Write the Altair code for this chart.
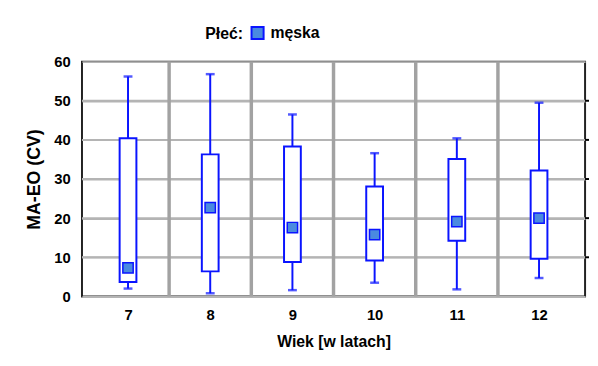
import altair as alt
import pandas as pd

ages = [7, 8, 9, 10, 11, 12]
whisker_low = [2.0, 0.8, 1.6, 3.5, 1.8, 4.7]
box_low = [3.7, 6.4, 8.8, 9.2, 14.2, 9.6]
median = [7.3, 22.7, 17.6, 15.8, 19.1, 20.0]
box_high = [40.4, 36.3, 38.3, 28.1, 35.1, 32.2]
whisker_high = [56.2, 56.8, 46.5, 36.6, 40.4, 49.5]
sex = ["męska"] * 6
y_ticks = [0, 10, 20, 30, 40, 50, 60]

df = pd.DataFrame({
    "age": ages, "wlo": whisker_low, "blo": box_low, "med": median,
    "bhi": box_high, "whi": whisker_high, "sex": sex,
})
sep = pd.DataFrame({"b": [a + 0.5 for a in ages[:-1]]})
gl = pd.DataFrame({"g": y_ticks[1:-1]})

FONT = "Liberation Sans"
BLUE = "#0a14ff"
W, H = 510, 238

xscale = alt.Scale(domain=[6.5, 12.5], nice=False, zero=False)
yscale = alt.Scale(domain=[0, 60], nice=False)

xaxis = alt.Axis(values=ages, format="d", title="Wiek [w latach]", grid=False,
                 ticks=False, labelPadding=11, titlePadding=12, domain=False,
                 labelFontSize=15, titleFontSize=16)
yaxis = alt.Axis(values=y_ticks, title="MA-EO (CV)", grid=True, gridColor="#b4b4b4",
                 gridWidth=2, gridOpacity=1,
                 ticks=False, labelPadding=12,
                 titlePadding=10, domain=False, labelFontSize=15, titleFontSize=18)

base = alt.Chart(df)

hgrid = alt.Chart(gl).mark_rule(color="#b4b4b4", strokeWidth=2, opacity=1).encode(
    y=alt.Y("g:Q", scale=yscale, axis=yaxis),
)

separators = alt.Chart(sep).mark_rule(color="#a2a2a2", strokeWidth=3.5).encode(
    x=alt.X("b:Q", scale=xscale, axis=xaxis),
)

right_ticks = alt.Chart(gl).mark_rule(color="#000000", strokeWidth=2).encode(
    y=alt.Y("g:Q", scale=yscale, axis=yaxis),
    x=alt.value(W), x2=alt.value(W + 4),
)

whisk = base.mark_rule(color=BLUE, strokeWidth=2).encode(
    x=alt.X("age:Q", scale=xscale, axis=xaxis),
    y=alt.Y("wlo:Q", scale=yscale, axis=yaxis),
    y2="whi:Q",
)
caps_lo = base.mark_tick(color=BLUE, thickness=2.5, size=9, orient="horizontal").encode(
    x=alt.X("age:Q", scale=xscale, axis=xaxis), y=alt.Y("wlo:Q", scale=yscale, axis=yaxis))
caps_hi = base.mark_tick(color=BLUE, thickness=2.5, size=9, orient="horizontal").encode(
    x=alt.X("age:Q", scale=xscale, axis=xaxis), y=alt.Y("whi:Q", scale=yscale, axis=yaxis))
box = base.mark_bar(fill="white", stroke=BLUE, strokeWidth=2, size=17).encode(
    x=alt.X("age:Q", scale=xscale, axis=xaxis), y=alt.Y("blo:Q", scale=yscale, axis=yaxis),
    y2="bhi:Q")
med = base.mark_point(shape="square", filled=True, size=110, stroke=BLUE,
                      strokeWidth=1.5, opacity=1).encode(
    x=alt.X("age:Q", scale=xscale, axis=xaxis), y=alt.Y("med:Q", scale=yscale, axis=yaxis),
    fill=alt.Fill("sex:N", scale=alt.Scale(range=["#4a8ae0"]),
                  legend=alt.Legend(title="Płeć:", orient="none", legendX=125, legendY=-37,
                                    direction="horizontal", titleOrient="left",
                                    symbolType="square", symbolSize=150,
                                    symbolStrokeColor=BLUE, symbolStrokeWidth=2,
                                    titleFontSize=16, labelFontSize=16,
                                    titleFont=FONT, labelFont=FONT,
                                    titleFontWeight="bold", labelFontWeight="bold",
                                    titleColor="#000", labelColor="#000",
                                    titlePadding=6, labelOffset=5)),
)

chart = alt.layer(hgrid, separators, whisk, caps_lo, caps_hi, box, med, right_ticks).properties(
    width=W, height=H,
    autosize=alt.AutoSizeParams(type="none"),
    padding={"left": 75, "top": 52, "right": 5, "bottom": 55},
).configure_view(
    stroke="#222222", strokeWidth=2,
).configure_axis(
    labelFont=FONT, titleFont=FONT,
    labelFontWeight="bold", titleFontWeight="bold",
    labelColor="#000", titleColor="#000",
)

chart.save("out.html", embed_options={"renderer": "svg", "actions": False})
